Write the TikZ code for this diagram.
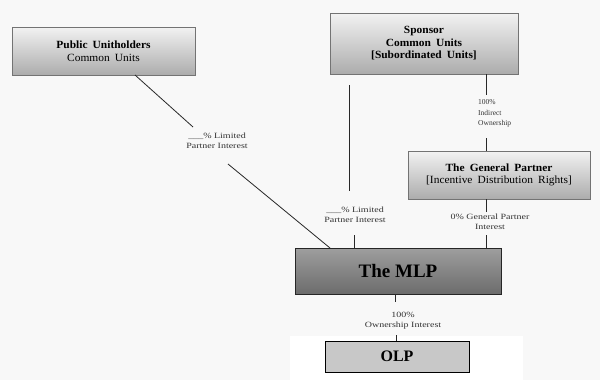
\documentclass[tikz,border=0pt]{standalone}
\usepackage{fontspec}
\setmainfont{Liberation Serif}
\newfontfamily\lblfont[FakeStretch=1.25]{Liberation Serif}
\newfontfamily\boxfont[FakeStretch=1.04, WordSpace=1.8]{Liberation Serif}
\usetikzlibrary{shadows}
\definecolor{bg}{RGB}{248,248,248}
\definecolor{boxtop}{RGB}{242,242,242}
\definecolor{boxbot}{RGB}{172,172,172}
\definecolor{mlptop}{RGB}{158,158,158}
\definecolor{mlpbot}{RGB}{108,108,108}
\definecolor{olpfill}{RGB}{200,200,200}
\definecolor{ln}{RGB}{40,40,40}
\begin{document}
\begin{tikzpicture}[x=1pt,y=-1pt,
  ownbox/.style={rectangle, draw=black!55, line width=0.6pt, top color=boxtop, bottom color=boxbot,
    drop shadow={shadow xshift=1pt, shadow yshift=-1.2pt, opacity=0.7}, align=center,
    font=\boxfont\fontsize{11}{12.5}\selectfont, inner sep=0pt},
  mlpbox/.style={rectangle, draw=black!85, line width=1pt, top color=mlptop, bottom color=mlpbot,
    drop shadow={shadow xshift=1pt, shadow yshift=-1.2pt, opacity=0.6}, align=center,
    font=\fontsize{19}{22}\selectfont\bfseries, inner sep=0pt},
  olpbox/.style={rectangle, draw=black, line width=0.8pt, fill=olpfill, align=center,
    font=\fontsize{16}{18}\selectfont\bfseries, inner sep=0pt},
  lbl/.style={align=center, font=\lblfont\fontsize{8}{10}\selectfont, inner sep=0pt, text=black!80},
  lblplain/.style={align=left, font=\fontsize{7.5}{10.5}\selectfont, inner sep=0pt, text=black!80},
  conn/.style={draw=ln, line width=0.8pt}]
\fill[bg] (0,0) rectangle (600,380);
\fill[white] (290,336) rectangle (523,380);
\useasboundingbox (0,0) rectangle (600,380);

\node[ownbox, minimum width=183pt, minimum height=48pt] (pub) at (103.5,51)
  {\textbf{Public Unitholders}\\Common Units};
\node[ownbox, minimum width=188pt, minimum height=61pt] (spon) at (424,43.5)
  {\textbf{Sponsor}\\\textbf{Common Units}\\\textbf{[Subordinated Units]}};
\node[ownbox, minimum width=182pt, minimum height=48pt] (gp) at (499,175)
  {\textbf{The General Partner}\\{[}Incentive Distribution Rights]};
\node[mlpbox, minimum width=206pt, minimum height=46pt] (mlp) at (398,271) {The MLP};
\node[olpbox, minimum width=144pt, minimum height=31pt] (olp) at (397,356.5) {OLP};

\node[lbl] (l1) at (217,141) {\_\_\_\% Limited\\Partner Interest};
\node[lbl] (l2) at (355,215) {\_\_\_\% Limited\\Partner Interest};
\node[lblplain, anchor=north west] (l3) at (478,99.5) {100\%\\Indirect\\Ownership};
\node[lbl] (l4) at (490,222) {0\% General Partner\\Interest};
\node[lbl] (l5) at (403,320.5) {100\%\\Ownership Interest};

\coordinate (a1) at (135,75);  \coordinate (b1) at (193,127);
\coordinate (c1) at (228,164); \coordinate (d1) at (330,248);
\coordinate (a2) at (349,85);  \coordinate (b2) at (349,191);
\coordinate (c2) at (354,235); \coordinate (d2) at (354,248);
\coordinate (a3) at (486,74);  \coordinate (b3) at (486,95);
\coordinate (c3) at (486,138); \coordinate (d3) at (486,151);
\coordinate (a4) at (486,199); \coordinate (b4) at (486,212);
\coordinate (c4) at (486,235); \coordinate (d4) at (486,248);
\coordinate (a5) at (395,294); \coordinate (b5) at (395,302);
\coordinate (c5) at (396,335); \coordinate (d5) at (396,341);

\draw[conn] (a1) -- (b1);
\draw[conn] (c1) -- (d1);
\draw[conn] (a2) -- (b2);
\draw[conn] (c2) -- (d2);
\draw[conn] (a3) -- (b3);
\draw[conn] (c3) -- (d3);
\draw[conn] (a4) -- (b4);
\draw[conn] (c4) -- (d4);
\draw[conn] (a5) -- (b5);
\draw[conn] (c5) -- (d5);
\end{tikzpicture}
\end{document}
